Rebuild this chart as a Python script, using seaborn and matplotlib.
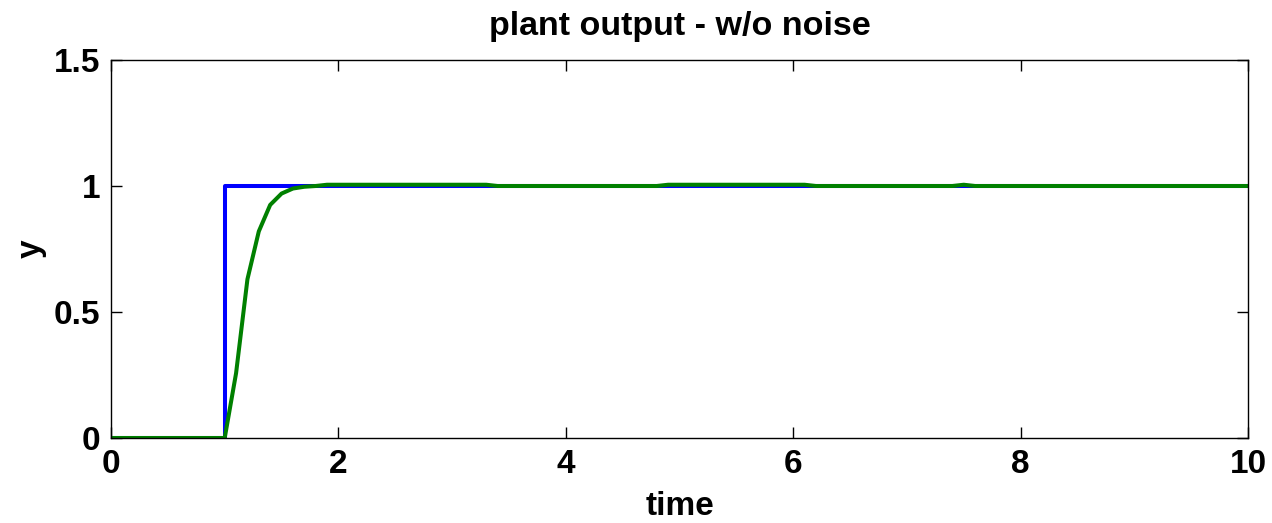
import matplotlib
matplotlib.use("Agg")
import matplotlib.pyplot as plt
import seaborn as sns
import pandas as pd

# reference (blue) step input
ref_time = [0.0, 1.0, 1.0, 10.0]
ref_y = [0.0, 0.0, 1.0, 1.0]

# plant output (green)
out_time = [0.0, 1.0, 1.1, 1.2, 1.3, 1.4, 1.5, 1.6, 1.7, 1.8, 1.9,
            3.3, 3.4, 4.8, 4.9, 6.1, 6.2, 7.4, 7.5, 7.6, 10.0]
out_y = [0.0, 0.0, 0.257, 0.63, 0.82, 0.925, 0.97, 0.99, 0.997, 1.0, 1.005,
         1.005, 1.0, 1.0, 1.005, 1.005, 1.0, 1.0, 1.005, 1.0, 1.0]

x_ticks = [0, 2, 4, 6, 8, 10]
y_ticks = [0, 0.5, 1, 1.5]
y_tick_labels = ["0", "0.5", "1", "1.5"]

sns.set_style("white")
plt.rcParams['font.family'] = ['Liberation Sans', 'DejaVu Sans']
plt.rcParams['font.weight'] = 'bold'
plt.rcParams['text.color'] = 'black'
plt.rcParams['axes.labelcolor'] = 'black'

fig = plt.figure(figsize=(12.72, 5.23), dpi=100)
ax = fig.add_axes([111/1272, 85/523, (1248-111)/1272, (438-60)/523])

df_ref = pd.DataFrame({"time": ref_time, "y": ref_y})
df_out = pd.DataFrame({"time": out_time, "y": out_y})
sns.lineplot(data=df_ref, x="time", y="y", ax=ax, color="#0000FF", linewidth=2.9,
             sort=False, estimator=None)
sns.lineplot(data=df_out, x="time", y="y", ax=ax, color="#008000", linewidth=2.9,
             sort=False, estimator=None)

ax.set_xlim(0, 10)
ax.set_ylim(0, 1.5)
ax.set_xticks(x_ticks)
ax.set_xticklabels([str(t) for t in x_ticks])
ax.set_yticks(y_ticks)
ax.set_yticklabels(y_tick_labels)

for s in ax.spines.values():
    s.set_visible(True)
    s.set_color("black")
    s.set_linewidth(1.0)

ax.tick_params(axis="both", which="both", direction="in", length=8, width=1,
               top=True, right=True, bottom=True, left=True,
               labelsize=24, pad=8, colors="black")
for lab in ax.get_xticklabels() + ax.get_yticklabels():
    lab.set_fontweight("bold")

ax.set_xlabel("time", fontsize=24, fontweight="bold", labelpad=8, color="black")
ax.set_ylabel("y", fontsize=24, fontweight="bold", labelpad=5, color="black")
ax.set_title("plant output - w/o noise", fontsize=24.5, fontweight="bold", pad=18,
             color="black")

fig.savefig("out.png", dpi=100)
